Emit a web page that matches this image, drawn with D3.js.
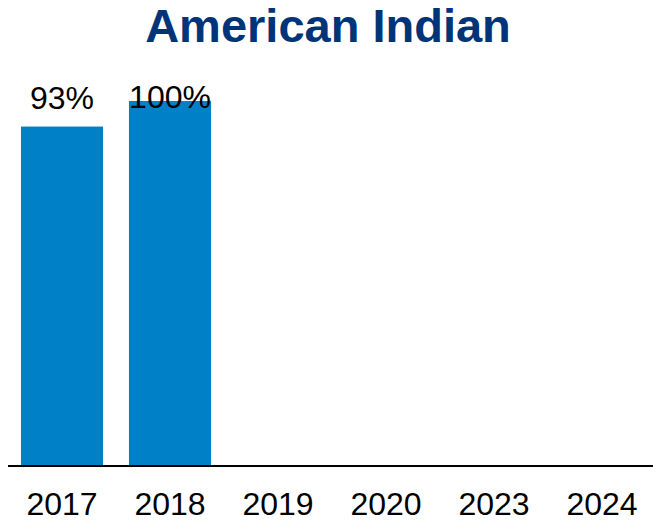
<!DOCTYPE html>
<html>
<head>
<meta charset="utf-8">
<script src="https://cdn.jsdelivr.net/npm/d3@7"></script>
<style>
  body { margin: 0; background: #fff; }
  text { font-family: "Liberation Sans", Arial, sans-serif; }
</style>
</head>
<body>
<div id="chart"></div>
<script>
const years = ['2017', '2018', '2019', '2020', '2023', '2024']
const values = [0.93, 1.00, null, null, null, null]
const valueLabels = ['93%', '100%', '', '', '', '']

const width = 653, height = 524
const baseY = 466

const svg = d3.select('#chart').append('svg')
  .attr('width', width).attr('height', height)

// title
svg.append('text')
  .attr('x', 328).attr('y', 42)
  .attr('text-anchor', 'middle')
  .attr('font-size', 47).attr('font-weight', 'bold')
  .attr('fill', '#003478')
  .text('American Indian')

const x = d3.scaleBand()
  .domain(years)
  .range([8, 656])
  .paddingInner(0.24)
  .paddingOuter(0.12)

const y = d3.scaleLinear()
  .domain([0, 1])
  .range([baseY, 101])

const data = years.map((yr, i) => ({ year: yr, val: values[i], label: valueLabels[i] }))
const withVal = data.filter(d => d.val != null)

svg.append('g').selectAll('rect')
  .data(withVal)
  .join('rect')
  .attr('x', d => x(d.year))
  .attr('y', d => y(d.val))
  .attr('width', x.bandwidth())
  .attr('height', d => baseY - y(d.val))
  .attr('fill', '#0080C6')

// value labels (clamped inside plot area like the source)
svg.append('g').selectAll('text')
  .data(withVal)
  .join('text')
  .attr('x', d => x(d.year) + x.bandwidth() / 2)
  .attr('y', d => Math.max(y(d.val) - 18, 108))
  .attr('text-anchor', 'middle')
  .attr('font-size', 32)
  .attr('fill', '#000')
  .text(d => d.label)

// baseline axis
const axis = svg.append('g')
  .attr('transform', `translate(0, ${baseY})`)
  .call(d3.axisBottom(x).tickSize(0).tickPadding(26))
axis.select('.domain')
  .attr('d', `M8,0H653`)
  .attr('stroke', '#000')
  .attr('stroke-width', 2)
axis.selectAll('text')
  .attr('font-size', 32)
  .attr('font-family', '"Liberation Sans", Arial, sans-serif')
  .attr('fill', '#000')
  .attr('dy', '0.71em')
</script>
</body>
</html>
